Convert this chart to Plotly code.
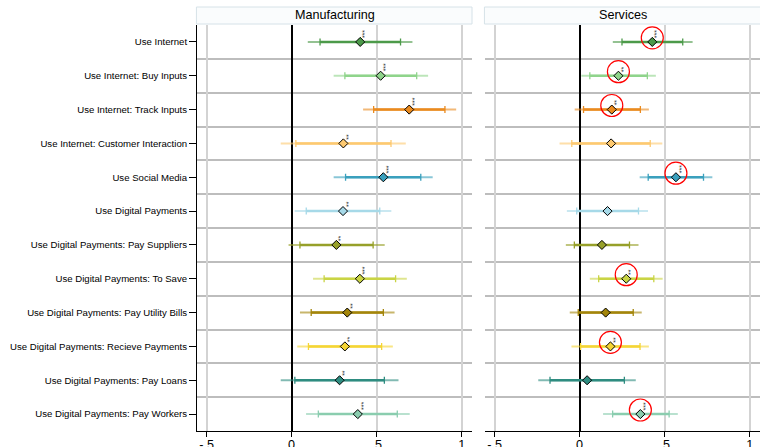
import plotly.graph_objects as go

labels = [
    "Use Internet",
    "Use Internet: Buy Inputs",
    "Use Internet: Track Inputs",
    "Use Internet: Customer Interaction",
    "Use Social Media",
    "Use Digital Payments",
    "Use Digital Payments: Pay Suppliers",
    "Use Digital Payments: To Save",
    "Use Digital Payments: Pay Utility Bills",
    "Use Digital Payments: Recieve Payments",
    "Use Digital Payments: Pay Loans",
    "Use Digital Payments: Pay Workers",
]
rows = list(range(1, 13))
colors = ["#4c9a4a", "#8fd48b", "#ea8a1e", "#fdc970", "#3aa0bd", "#a6d9e8",
          "#97a02a", "#c9d444", "#a3850a", "#f5d534", "#2e8c80", "#8acdaf"]

# Manufacturing
m_pt = [0.403, 0.523, 0.691, 0.304, 0.539, 0.302, 0.263, 0.401, 0.327, 0.313, 0.282, 0.389]
m_in_lo = [0.167, 0.313, 0.482, 0.025, 0.317, 0.086, 0.049, 0.191, 0.115, 0.099, 0.019, 0.157]
m_in_hi = [0.640, 0.735, 0.901, 0.584, 0.759, 0.518, 0.479, 0.611, 0.539, 0.529, 0.545, 0.621]
m_out_lo = [0.095, 0.247, 0.420, -0.064, 0.247, 0.018, -0.018, 0.126, 0.049, 0.033, -0.064, 0.085]
m_out_hi = [0.710, 0.802, 0.967, 0.671, 0.829, 0.586, 0.547, 0.677, 0.605, 0.595, 0.628, 0.694]
m_stars = [3, 3, 3, 2, 3, 2, 2, 3, 2, 2, 2, 3]

# Services
s_pt = [0.427, 0.228, 0.189, 0.185, 0.566, 0.164, 0.131, 0.274, 0.153, 0.181, 0.044, 0.357]
s_in_lo = [0.249, 0.060, 0.023, -0.046, 0.403, -0.017, -0.031, 0.112, -0.008, 0.006, -0.174, 0.194]
s_in_hi = [0.606, 0.398, 0.357, 0.415, 0.728, 0.346, 0.293, 0.436, 0.315, 0.355, 0.263, 0.526]
s_out_lo = [0.195, 0.010, -0.029, -0.118, 0.353, -0.075, -0.081, 0.060, -0.058, -0.048, -0.243, 0.138]
s_out_hi = [0.664, 0.448, 0.407, 0.486, 0.780, 0.402, 0.346, 0.488, 0.365, 0.407, 0.330, 0.577]
s_stars = [3, 2, 2, 0, 3, 0, 0, 2, 0, 2, 0, 3]

panel_titles = ["Manufacturing", "Services"]
xtick_vals = [-0.5, 0, 0.5, 1]
xtick_text = ["-.5", "0", ".5", "1"]


def hex_rgba(h, a):
    h = h.lstrip("#")
    r, g, b = int(h[0:2], 16), int(h[2:4], 16), int(h[4:6], 16)
    return f"rgba({r},{g},{b},{a})"


fig = go.Figure()
annotations = []

panels = [
    ("x", "y", m_pt, m_in_lo, m_in_hi, m_out_lo, m_out_hi, m_stars),
    ("x2", "y2", s_pt, s_in_lo, s_in_hi, s_out_lo, s_out_hi, s_stars),
]

for pi, (xa, ya, pt, ilo, ihi, olo, ohi, stars) in enumerate(panels):
    for i in range(12):
        c = colors[i]
        # outer interval (thin, lighter)
        fig.add_trace(go.Scatter(
            x=[pt[i]], y=[rows[i]], xaxis=xa, yaxis=ya, mode="markers",
            marker=dict(size=1, opacity=0),
            error_x=dict(type="data", symmetric=False, array=[ohi[i] - pt[i]],
                         arrayminus=[pt[i] - olo[i]], color=hex_rgba(c, 0.6),
                         thickness=2, width=0),
            showlegend=False, hoverinfo="skip"))
        # inner interval (thick)
        fig.add_trace(go.Scatter(
            x=[pt[i]], y=[rows[i]], xaxis=xa, yaxis=ya, mode="markers",
            marker=dict(size=1, opacity=0),
            error_x=dict(type="data", symmetric=False, array=[ihi[i] - pt[i]],
                         arrayminus=[pt[i] - ilo[i]], color=c,
                         thickness=2.5, width=0),
            showlegend=False, hoverinfo="skip"))
        # caps on inner interval + point estimate
        fig.add_trace(go.Scatter(
            x=[pt[i]], y=[rows[i]], xaxis=xa, yaxis=ya, mode="markers",
            marker=dict(symbol="diamond", size=7, color=c,
                        line=dict(color="black", width=1)),
            error_x=dict(type="data", symmetric=False, array=[ihi[i] - pt[i]],
                         arrayminus=[pt[i] - ilo[i]], color=c,
                         thickness=1.3, width=3.5),
            showlegend=False, hoverinfo="skip"))
        if stars[i] > 0:
            annotations.append(dict(
                x=pt[i], y=rows[i], xref=xa, yref=ya, text="*" * stars[i],
                textangle=-90, showarrow=False, xanchor="center", yanchor="bottom",
                xshift=5, yshift=2, font=dict(size=7, color="#333333",
                                              family="Liberation Sans, Arial")))
    if pi == 1:
        cx = [pt[i] for i in range(12) if stars[i] > 0]
        cy = [rows[i] - 0.12 for i in range(12) if stars[i] > 0]
        fig.add_trace(go.Scatter(
            x=cx, y=cy, xaxis=xa, yaxis=ya, mode="markers",
            marker=dict(symbol="circle-open", size=22, color="red",
                        line=dict(color="red", width=1.2)),
            showlegend=False, hoverinfo="skip"))

L, T, B = 197, 25, 16
W, H = 760, 447
pw = W - L
ph = H - T - B

def px_x(p):
    return (p - L) / pw

def px_y(p):
    return (H - B - p) / ph

dom1 = [0, px_x(472)]
dom2 = [px_x(485), 1.0]
xrange_ = [-0.556, 1.06]

xcommon = dict(range=xrange_, tickvals=xtick_vals, ticktext=xtick_text,
               showgrid=True, gridcolor="#d3d3d3", gridwidth=2,
               zeroline=True, zerolinecolor="black", zerolinewidth=1.5,
               showline=True, linecolor="black", linewidth=1,
               ticks="outside", ticklen=5, tickcolor="black", automargin=False,
               ticklabelstandoff=-3,
               tickfont=dict(size=12.6, color="black", family="Liberation Sans, Arial"),
               fixedrange=True)
ycommon = dict(range=[12.5, 0.5], tickvals=rows, showgrid=False, zeroline=False,
               automargin=False,
               minor=dict(tickvals=[r + 0.5 for r in rows[:-1]], showgrid=True,
                          gridcolor="#bdbdbd", gridwidth=1.8),
               fixedrange=True)

fig.update_layout(
    width=W, height=H,
    margin=dict(l=L, r=0, t=T, b=B, autoexpand=False),
    paper_bgcolor="white", plot_bgcolor="white",
    font=dict(family="Liberation Sans, Arial", color="black"),
    xaxis=dict(domain=dom1, anchor="y", **xcommon),
    xaxis2=dict(domain=dom2, anchor="y2", **xcommon),
    yaxis=dict(domain=[0, 1], anchor="x", ticktext=labels, showline=True,
               linecolor="black", linewidth=1, ticks="outside", ticklen=7,
               tickcolor="black",
               tickfont=dict(size=9.6, color="black", family="Liberation Sans, Arial"),
               **ycommon),
    yaxis2=dict(domain=[0, 1], anchor="x2", showticklabels=False, showline=False,
                ticks="", **ycommon),
    showlegend=False,
)

shapes = []
for k, (dom, title) in enumerate(zip([dom1, dom2], panel_titles)):
    shapes.append(dict(type="rect", xref="paper", yref="paper",
                       x0=dom[0] - 0.001, x1=dom[1] + (0.01 if k == 1 else 0),
                       y0=px_y(24), y1=px_y(7),
                       fillcolor="#fafcfd", line=dict(color="#d6e2e8", width=1)))
    annotations.append(dict(x=(dom[0] + dom[1]) / 2, y=px_y(15.5), xref="paper",
                            yref="paper", text=title, showarrow=False,
                            xanchor="center", yanchor="middle",
                            font=dict(size=12.6, color="black",
                                      family="Liberation Sans, Arial")))

fig.update_layout(shapes=shapes, annotations=annotations)
fig.write_html("out.html", config={"displayModeBar": False},
               post_script="document.body.style.margin='0';document.body.style.overflow='hidden';")
